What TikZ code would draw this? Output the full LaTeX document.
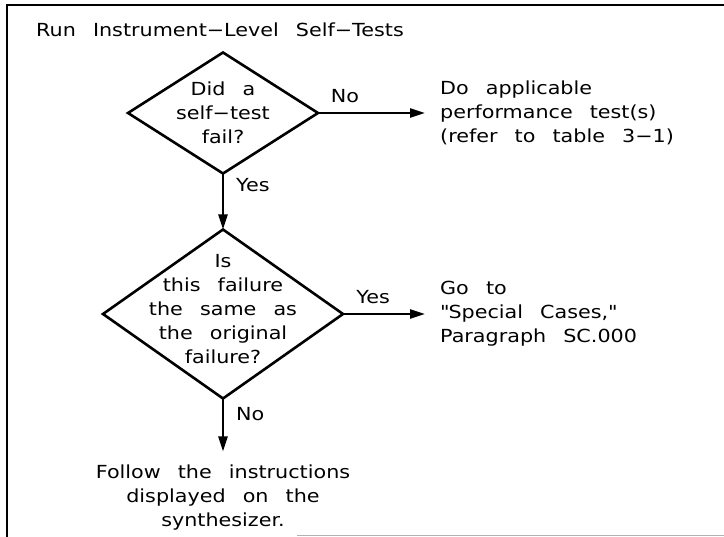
\documentclass[tikz,border=0pt]{standalone}
\usepackage{fontspec}
\setmainfont{DejaVu Sans}[FakeStretch=1.15,WordSpace=2.6]
\usetikzlibrary{positioning,arrows.meta,shapes.geometric}

\begin{document}
\begin{tikzpicture}[x=1pt, y=-1pt,
  decision/.style={draw, diamond, line width=2.6pt, inner sep=0pt, outer sep=0pt},
  txt/.style={font=\fontsize{18}{24}\selectfont, inner sep=0pt},
  qtext/.style={txt, align=center},
  flow/.style={-{Triangle[length=15pt,width=9pt]}, line width=2.4pt},
  lab/.style={txt, inner sep=2pt},
  frame/.style={line width=1.4pt}
]
\useasboundingbox (0,0) rectangle (724,537);

% outer frame (only top and left edges show)
\draw[frame] (724,5) -- (7,5) -- (7,537);
\draw[gray!60, line width=1pt] (297,536) -- (724,536);

\node[txt, anchor=west] (title) at (36,30) {Run Instrument−Level Self−Tests};

\node[decision, minimum width=190pt, minimum height=121pt] (q1) at (223,113) {};
\node[qtext] (q1text) at (q1) {Did a\\self−test\\fail?};
\node[decision, minimum width=240pt, minimum height=169pt, below=56pt of q1] (q2) {};
\node[qtext] (q2text) at ([yshift=5pt]q2.center) {Is\\this failure\\the same as\\the original\\failure?};

\node[txt, align=left, right=122pt of q1] (perf) {Do applicable\\performance test(s)\\(refer to table 3−1)};
\node[txt, align=left, right=97pt of q2] (special) {Go to\\\textquotedbl Special Cases,\textquotedbl\\Paragraph SC.000};
\node[txt, align=center, below=66pt of q2] (follow) {Follow the instructions\\displayed on the\\synthesizer.};

\draw[flow, shorten >=15pt] (q1.east) -- node[lab, above=7pt, pos=.22] {No} (q1.east -| perf.west);
\draw[flow] (q1.south) -- node[lab, right=10pt, pos=.21] {Yes} (q2.north);
\draw[flow, shorten >=15pt] (q2.east) -- node[lab, above=7pt, pos=.31] {Yes} (q2.east -| special.west);
\draw[flow, shorten >=13pt] (q2.south) -- node[lab, right=10pt, pos=.23] {No} (q2.south |- follow.north);
\end{tikzpicture}
\end{document}
